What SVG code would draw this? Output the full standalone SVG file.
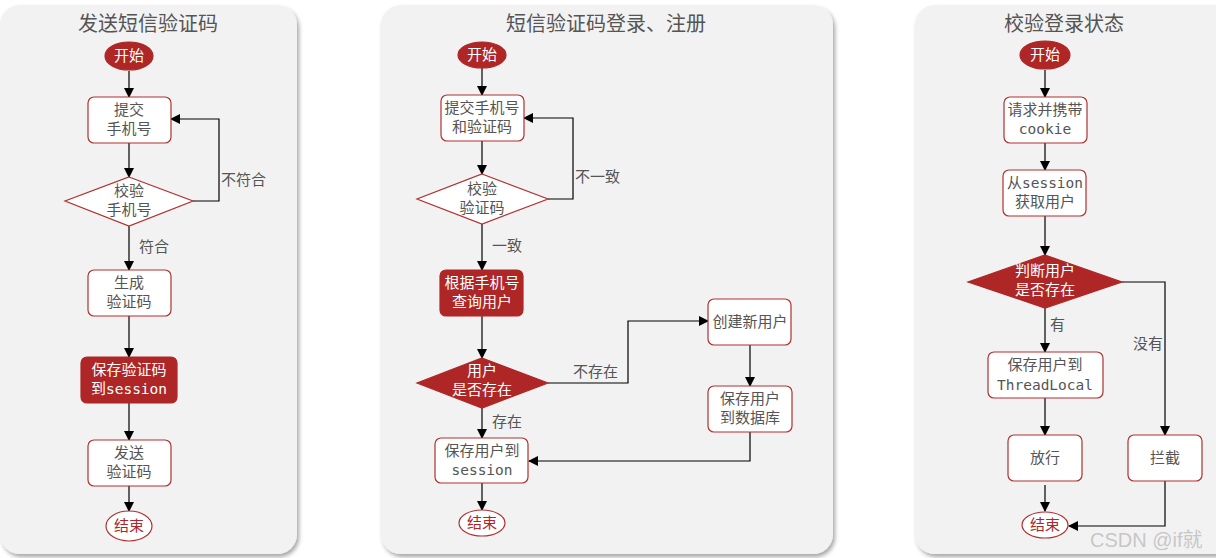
<svg xmlns="http://www.w3.org/2000/svg" width="1216" height="558" viewBox="0 0 1216 558">
<defs>
<marker id="arr" viewBox="0 0 10 10" refX="9" refY="5" markerWidth="10" markerHeight="10" markerUnits="userSpaceOnUse" orient="auto">
<path d="M0,0 L10,5 L0,10 z" fill="#000"/>
</marker>
<filter id="sh" x="-5%" y="-5%" width="115%" height="115%">
<feDropShadow dx="2" dy="3" stdDeviation="2" flood-color="#000" flood-opacity="0.35"/>
</filter>
</defs>
<style>
.panel{fill:#f2f2f2;filter:url(#sh)}
.title{font-family:"Noto Sans CJK SC",sans-serif;font-size:20px;fill:#555;text-anchor:middle}
.box{fill:#fff;stroke:#b03030;stroke-width:1.2}
.dark{fill:#ae2626;stroke:#ae2626;stroke-width:1.2}
.t{font-family:"Noto Sans CJK SC",sans-serif;font-size:15px;fill:#555;text-anchor:middle}
.tw{font-family:"Noto Sans CJK SC",sans-serif;font-size:15px;fill:#fff;text-anchor:middle}
.tr{font-family:"Noto Sans CJK SC",sans-serif;font-size:15px;fill:#ae2626;text-anchor:middle}
.m{font-family:"DejaVu Sans Mono","Liberation Mono",monospace;font-size:14.5px}
.lab{font-family:"Noto Sans CJK SC",sans-serif;font-size:15px;fill:#555}
.c{fill:none;stroke:#000;stroke-width:1.2;marker-end:url(#arr)}
.wm{font-family:"Liberation Sans",sans-serif;font-size:20px;fill:#bbb;fill-opacity:0.8}
</style>

<g id="panels">
<rect class="panel" x="0" y="5" width="297" height="549" rx="20"/>
<rect class="panel" x="381" y="5" width="452" height="549" rx="20"/>
<rect class="panel" x="915" y="5" width="330" height="549" rx="20"/>
<text class="title" x="148" y="31">发送短信验证码</text>
<text class="title" x="606" y="31">短信验证码登录、注册</text>
<text class="title" x="1064" y="31">校验登录状态</text>
</g>

<g id="connectors">
<path class="c" d="M129,71 V97"/>
<path class="c" d="M129,143 V177"/>
<path class="c" d="M193,201 H219 V119 H171"/>
<path class="c" d="M129,226 V270"/>
<path class="c" d="M129,316 V357"/>
<path class="c" d="M129,403 V440"/>
<path class="c" d="M129,486 V511"/>
<path class="c" d="M482,68 V95"/>
<path class="c" d="M482,141 V174"/>
<path class="c" d="M548,199 H573 V118 H524"/>
<path class="c" d="M482,224 V270"/>
<path class="c" d="M482,316 V358"/>
<path class="c" d="M548,383 H628 V321 H708"/>
<path class="c" d="M750,345 V386"/>
<path class="c" d="M750,432 V461 H529"/>
<path class="c" d="M482,408 V438"/>
<path class="c" d="M482,483 V510"/>
<path class="c" d="M1045,70 V97"/>
<path class="c" d="M1045,143 V170"/>
<path class="c" d="M1045,216 V255"/>
<path class="c" d="M1122,282 H1165 V435"/>
<path class="c" d="M1045,308 V352"/>
<path class="c" d="M1045,398 V435"/>
<path class="c" d="M1045,485 V511"/>
<path class="c" d="M1165,481 V526 H1069"/>
</g>

<g id="labels">
<text class="lab" x="221" y="185">不符合</text>
<text class="lab" x="139" y="252">符合</text>
<text class="lab" x="575" y="182">不一致</text>
<text class="lab" x="492" y="251">一致</text>
<text class="lab" x="573" y="377">不存在</text>
<text class="lab" x="492" y="427">存在</text>
<text class="lab" x="1050" y="330">有</text>
<text class="lab" x="1133" y="349">没有</text>
</g>

<g id="p1-start"><ellipse class="dark" cx="129" cy="56" rx="24" ry="14"/><text class="tw" x="129" y="61">开始</text></g>
<g id="p1-submit"><rect class="box" x="88" y="97" width="83" height="46" rx="6"/><text class="t" x="129" y="115">提交</text><text class="t" x="129" y="134">手机号</text></g>
<g id="p1-check"><polygon class="box" points="129,177 193,201 129,226 65,201"/><text class="t" x="129" y="196">校验</text><text class="t" x="129" y="215">手机号</text></g>
<g id="p1-gen"><rect class="box" x="88" y="270" width="83" height="46" rx="6"/><text class="t" x="129" y="288">生成</text><text class="t" x="129" y="307">验证码</text></g>
<g id="p1-save"><rect class="dark" x="81" y="357" width="96" height="46" rx="6"/><text class="tw" x="129" y="375">保存验证码</text><text class="tw" x="129" y="394">到<tspan class="m">session</tspan></text></g>
<g id="p1-send"><rect class="box" x="88" y="440" width="83" height="46" rx="6"/><text class="t" x="129" y="458">发送</text><text class="t" x="129" y="477">验证码</text></g>
<g id="p1-end"><ellipse class="box" cx="129" cy="526" rx="23" ry="15"/><text class="tr" x="129" y="531">结束</text></g>

<g id="p2-start"><ellipse class="dark" cx="482" cy="55" rx="24" ry="13"/><text class="tw" x="482" y="60">开始</text></g>
<g id="p2-submit"><rect class="box" x="441" y="95" width="83" height="46" rx="6"/><text class="t" x="482" y="113">提交手机号</text><text class="t" x="482" y="132">和验证码</text></g>
<g id="p2-check"><polygon class="box" points="482,174 548,199 482,224 417,199"/><text class="t" x="482" y="194">校验</text><text class="t" x="482" y="213">验证码</text></g>
<g id="p2-query"><rect class="dark" x="440" y="270" width="83" height="46" rx="6"/><text class="tw" x="482" y="288">根据手机号</text><text class="tw" x="482" y="307">查询用户</text></g>
<g id="p2-exists"><polygon class="dark" points="482,358 548,383 482,408 417,383"/><text class="tw" x="482" y="376">用户</text><text class="tw" x="482" y="395">是否存在</text></g>
<g id="p2-create"><rect class="box" x="708" y="299" width="83" height="46" rx="6"/><text class="t" x="750" y="327">创建新用户</text></g>
<g id="p2-savedb"><rect class="box" x="708" y="386" width="84" height="46" rx="6"/><text class="t" x="750" y="404">保存用户</text><text class="t" x="750" y="423">到数据库</text></g>
<g id="p2-savesession"><rect class="box" x="435" y="438" width="93" height="45" rx="6"/><text class="t" x="482" y="456">保存用户到</text><text class="t m" x="482" y="475">session</text></g>
<g id="p2-end"><ellipse class="box" cx="482" cy="523" rx="23" ry="13"/><text class="tr" x="482" y="528">结束</text></g>

<g id="p3-start"><ellipse class="dark" cx="1045" cy="55" rx="25" ry="14"/><text class="tw" x="1045" y="60">开始</text></g>
<g id="p3-request"><rect class="box" x="1004" y="97" width="83" height="46" rx="6"/><text class="t" x="1045" y="115">请求并携带</text><text class="t m" x="1045" y="134">cookie</text></g>
<g id="p3-get"><rect class="box" x="1003" y="170" width="83" height="46" rx="6"/><text class="t" x="1045" y="188">从<tspan class="m">session</tspan></text><text class="t" x="1045" y="207">获取用户</text></g>
<g id="p3-judge"><polygon class="dark" points="1045,255 1122,282 1045,308 968,282"/><text class="tw" x="1045" y="276">判断用户</text><text class="tw" x="1045" y="295">是否存在</text></g>
<g id="p3-save"><rect class="box" x="988" y="352" width="115" height="46" rx="6"/><text class="t" x="1045" y="370">保存用户到</text><text class="t m" x="1045" y="390">ThreadLocal</text></g>
<g id="p3-pass"><rect class="box" x="1008" y="435" width="74" height="46" rx="6"/><text class="t" x="1045" y="463">放行</text></g>
<g id="p3-block"><rect class="box" x="1128" y="435" width="74" height="46" rx="6"/><text class="t" x="1165" y="463">拦截</text></g>
<g id="p3-end"><ellipse class="box" cx="1045" cy="525" rx="23" ry="13"/><text class="tr" x="1045" y="530">结束</text></g>

<text class="wm" x="1090" y="547">CSDN @if<tspan font-family="Noto Sans CJK SC, sans-serif">就</tspan></text>
</svg>
